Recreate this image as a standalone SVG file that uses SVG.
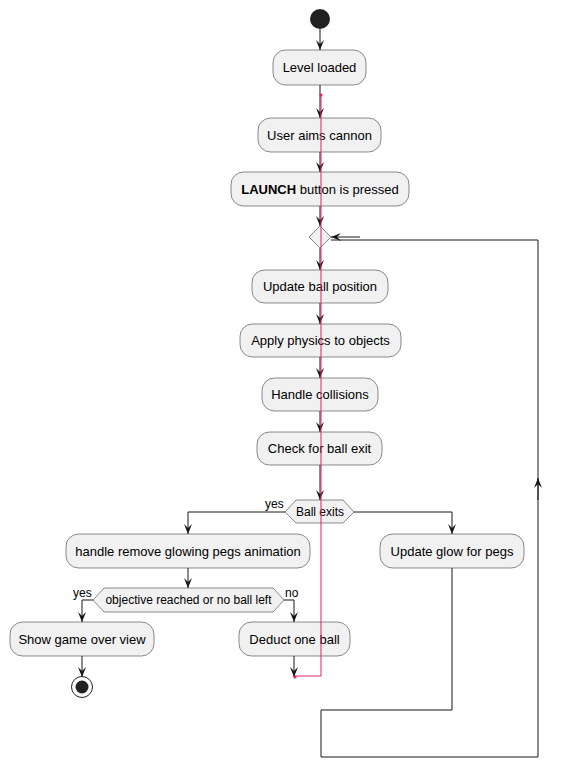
<svg xmlns="http://www.w3.org/2000/svg" width="564" height="770" viewBox="0 0 564 770">
<style>
.box{fill:#F1F1F1;stroke:#181818;stroke-width:0.5}
.t{font-family:"Liberation Sans",Arial,sans-serif;font-size:13px;fill:#000;text-anchor:middle}
.s{font-family:"Liberation Sans",Arial,sans-serif;font-size:12px;fill:#000}
.ln{fill:none;stroke:#181818;stroke-width:1}
.red{fill:none;stroke:#E0245E;stroke-width:1}
</style>
<defs>
<marker id="ah" markerUnits="userSpaceOnUse" markerWidth="10" markerHeight="8" refX="10" refY="4" orient="auto" overflow="visible">
<path d="M0,0 L10,4 L0,8 L4,4 Z" fill="#181818"/>
</marker>
</defs>
<rect width="564" height="770" fill="#fff"/>
<g id="connectors">
<line class="ln" x1="320" y1="29" x2="320" y2="50" marker-end="url(#ah)"/>
<line class="ln" x1="320" y1="85" x2="320" y2="118" marker-end="url(#ah)"/>
<line class="ln" x1="320" y1="152" x2="320" y2="172" marker-end="url(#ah)"/>
<line class="ln" x1="320" y1="206" x2="320" y2="226" marker-end="url(#ah)"/>
<line class="ln" x1="320" y1="248" x2="320" y2="270" marker-end="url(#ah)"/>
<line class="ln" x1="320" y1="303" x2="320" y2="324" marker-end="url(#ah)"/>
<line class="ln" x1="320" y1="357" x2="320" y2="378" marker-end="url(#ah)"/>
<line class="ln" x1="320" y1="411" x2="320" y2="432" marker-end="url(#ah)"/>
<line class="ln" x1="320" y1="465" x2="320" y2="500" marker-end="url(#ah)"/>
<polyline class="ln" points="285,512 188,512 188,534" marker-end="url(#ah)"/>
<polyline class="ln" points="354,512 452,512 452,534" marker-end="url(#ah)"/>
<line class="ln" x1="188" y1="568" x2="188" y2="588" marker-end="url(#ah)"/>
<polyline class="ln" points="93,600 82,600 82,622" marker-end="url(#ah)"/>
<polyline class="ln" points="284,600 294,600 294,622" marker-end="url(#ah)"/>
<line class="ln" x1="82" y1="656" x2="82" y2="677" marker-end="url(#ah)"/>
<line class="ln" x1="294" y1="656" x2="294" y2="677" marker-end="url(#ah)"/>
<polyline class="ln" points="452,568 452,710 321,710 321,757 538,757 538,240 331,240"/>
<line class="ln" x1="538" y1="500" x2="538" y2="478" marker-end="url(#ah)"/>
<line class="ln" x1="360" y1="237" x2="331" y2="237" marker-end="url(#ah)"/>
</g>
<g id="start"><circle cx="320" cy="19" r="10" fill="#222"/></g>
<g id="n1"><rect class="box" x="273" y="50" width="93" height="35" rx="12.5"/><text class="t" x="319.5" y="72">Level loaded</text></g>
<g id="n2"><rect class="box" x="258" y="118" width="123" height="34" rx="12.5"/><text class="t" x="319.5" y="139.5">User aims cannon</text></g>
<g id="n3"><rect class="box" x="231" y="172" width="178" height="34" rx="12.5"/><text class="t" x="320" y="193.5"><tspan font-weight="bold">LAUNCH</tspan> button is pressed</text></g>
<g id="merge"><polygon points="309,237 320,226 331,237 320,248" fill="#F1F1F1" stroke="#181818" stroke-width="0.5"/></g>
<g id="n4"><rect class="box" x="252" y="270" width="136" height="33" rx="12.5"/><text class="t" x="320" y="291">Update ball position</text></g>
<g id="n5"><rect class="box" x="240" y="324" width="161" height="33" rx="12.5"/><text class="t" x="320.5" y="345">Apply physics to objects</text></g>
<g id="n6"><rect class="box" x="262" y="378" width="116" height="33" rx="12.5"/><text class="t" x="320" y="399">Handle collisions</text></g>
<g id="n7"><rect class="box" x="257" y="432" width="125" height="33" rx="12.5"/><text class="t" x="319.5" y="453">Check for ball exit</text></g>
<g id="d1"><polygon points="285,512 296,500 343,500 354,512 343,523 296,523" fill="#F1F1F1" stroke="#181818" stroke-width="0.5"/><text class="s" x="320" y="516" text-anchor="middle">Ball exits</text><text class="s" x="265" y="508">yes</text></g>
<g id="n8"><rect class="box" x="66" y="534" width="244" height="34" rx="12.5"/><text class="t" x="188" y="555.5">handle remove glowing pegs animation</text></g>
<g id="n9"><rect class="box" x="380" y="534" width="144" height="34" rx="12.5"/><text class="t" x="452" y="555.5">Update glow for pegs</text></g>
<g id="d2"><polygon points="93,600 104,588 273,588 284,600 273,612 104,612" fill="#F1F1F1" stroke="#181818" stroke-width="0.5"/><text class="s" x="188.5" y="604" text-anchor="middle">objective reached or no ball left</text><text class="s" x="73" y="597">yes</text><text class="s" x="285" y="597">no</text></g>
<g id="n10"><rect class="box" x="10" y="622" width="144" height="34" rx="12.5"/><text class="t" x="82" y="643.5">Show game over view</text></g>
<g id="n11"><rect class="box" x="239" y="622" width="111" height="34" rx="12.5"/><text class="t" x="294.5" y="643.5">Deduct one ball</text></g>
<g id="end"><circle cx="82" cy="687" r="10.5" fill="#fff" stroke="#222" stroke-width="1"/><circle cx="82" cy="687" r="6.5" fill="#222"/></g>
<g id="connector-red">
<polyline class="red" points="321,95 321,676 295,676"/>
<circle cx="321" cy="95" r="1.6" fill="#E0245E"/>
<circle cx="295" cy="677" r="1.6" fill="#E0245E"/>
</g>
</svg>
